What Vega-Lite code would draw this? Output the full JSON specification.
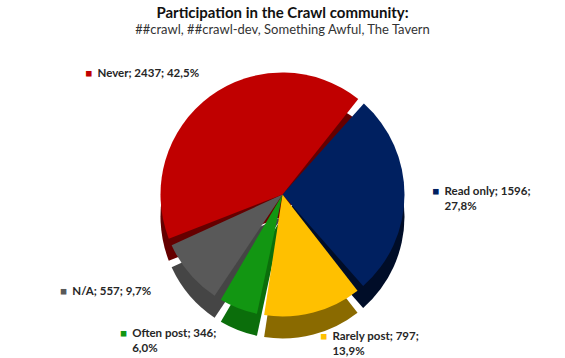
{
  "$schema": "https://vega.github.io/schema/vega-lite/v6.json",
  "width": 565,
  "height": 358,
  "autosize": {"type": "fit", "contains": "padding"},
  "padding": {"left": 0, "right": 0, "top": 6, "bottom": 0},
  "background": "white",
  "title": {
    "text": "Participation in the Crawl community:",
    "subtitle": "##crawl, ##crawl-dev, Something Awful, The Tavern",
    "font": "Lato",
    "fontSize": 15,
    "fontWeight": "bold",
    "color": "#111111",
    "subtitleFont": "Lato",
    "subtitleFontSize": 13,
    "subtitleColor": "#333333",
    "subtitlePadding": 3,
    "anchor": "middle",
    "offset": 2
  },
  "data": {
    "values": [
      {"n": 1, "category": "Read only", "count": 1596, "label": "Read only; 1596;\n27,8%"},
      {"n": 2, "category": "Rarely post", "count": 797, "label": "Rarely post; 797;\n13,9%"},
      {"n": 3, "category": "Often post", "count": 346, "label": "Often post; 346;\n6,0%"},
      {"n": 4, "category": "N/A", "count": 557, "label": "N/A; 557; 9,7%"},
      {"n": 5, "category": "Never", "count": 2437, "label": "Never; 2437; 42,5%"}
    ]
  },
  "transform": [
    {"calculate": "indexof(datum.label, '\\n') >= 0 ? '■\\n ' : '■'", "as": "sq"}
  ],
  "encoding": {
    "theta": {"field": "count", "type": "quantitative", "stack": true, "scale": {"range": [0.7, 6.9832]}},
    "order": {"field": "n", "type": "quantitative", "sort": "ascending"}
  },
  "layer": [
    {
      "mark": {"type": "arc", "outerRadius": 122, "padAngle": 0.06, "yOffset": 18},
      "encoding": {
        "fill": {
          "field": "category", "type": "nominal", "legend": null,
          "scale": {"domain": ["Read only", "Rarely post", "Often post", "N/A", "Never"],
                    "range": ["#000d28", "#8a6a00", "#0b6e0b", "#454545", "#650000"]}
        }
      }
    },
    {
      "mark": {"type": "arc", "outerRadius": 122, "padAngle": 0.06, "yOffset": -4},
      "encoding": {
        "color": {
          "field": "category", "type": "nominal", "legend": null,
          "scale": {"domain": ["Read only", "Rarely post", "Often post", "N/A", "Never"],
                    "range": ["#002060", "#FFC000", "#129612", "#595959", "#C00000"]}
        }
      }
    },
    {
      "mark": {"type": "text", "radius": 150, "align": "left", "baseline": "middle", "font": "Lato", "fontWeight": "bold", "fontSize": 11.5, "lineBreak": "\n", "lineHeight": 15, "fill": "#262626", "yOffset": -7, "dx": 12},
      "encoding": {
        "text": {"condition": {"test": "datum.category === 'Read only' || datum.category === 'Rarely post'", "field": "label", "type": "nominal"}, "value": ""}
      }
    },
    {
      "mark": {"type": "text", "radius": 150, "align": "left", "baseline": "middle", "font": "Lato", "fontWeight": "bold", "fontSize": 11.5, "lineBreak": "\n", "lineHeight": 15, "yOffset": -7, "dx": 0},
      "encoding": {
        "text": {"condition": {"test": "datum.category === 'Read only' || datum.category === 'Rarely post'", "field": "sq", "type": "nominal"}, "value": ""},
        "color": {"field": "category", "type": "nominal", "legend": null}
      }
    },
    {
      "mark": {"type": "text", "radius": 150, "align": "left", "baseline": "middle", "font": "Lato", "fontWeight": "bold", "fontSize": 11.5, "lineBreak": "\n", "lineHeight": 15, "fill": "#262626", "yOffset": -4, "dx": -96},
      "encoding": {
        "text": {"condition": {"test": "datum.category === 'Never' || datum.category === 'N/A' || datum.category === 'Often post'", "field": "label", "type": "nominal"}, "value": ""}
      }
    },
    {
      "mark": {"type": "text", "radius": 150, "align": "left", "baseline": "middle", "font": "Lato", "fontWeight": "bold", "fontSize": 11.5, "lineBreak": "\n", "lineHeight": 15, "yOffset": -4, "dx": -108},
      "encoding": {
        "text": {"condition": {"test": "datum.category === 'Never' || datum.category === 'N/A' || datum.category === 'Often post'", "field": "sq", "type": "nominal"}, "value": ""},
        "color": {"field": "category", "type": "nominal", "legend": null}
      }
    }
  ],
  "config": {"view": {"stroke": null}}
}
